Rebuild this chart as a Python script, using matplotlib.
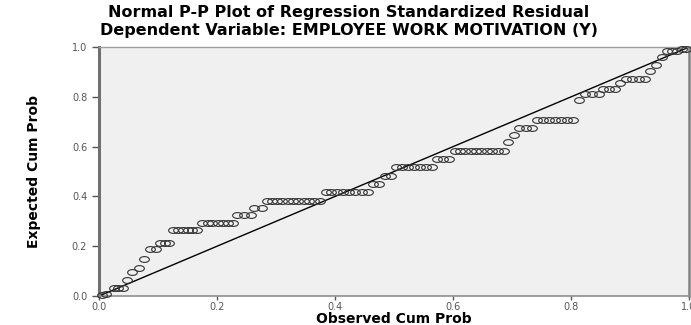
import numpy as np
import matplotlib
matplotlib.use("Agg")
import matplotlib.pyplot as plt
from matplotlib.path import Path

# Observed cum prob (x) and expected cum prob (y)
obs = [0.005, 0.012,
       0.025, 0.033, 0.040,
       0.047, 0.056, 0.067, 0.076,
       0.086, 0.097,
       0.104, 0.112, 0.119,
       0.126, 0.134, 0.142, 0.150, 0.158, 0.166,
       0.175, 0.184, 0.192, 0.201, 0.210, 0.218, 0.227,
       0.234, 0.246, 0.258,
       0.263, 0.276,
       0.284, 0.293, 0.302, 0.311, 0.320, 0.329, 0.338, 0.347, 0.356, 0.365, 0.375,
       0.384, 0.394, 0.404, 0.414, 0.424, 0.434, 0.445, 0.456,
       0.464, 0.474,
       0.484, 0.495,
       0.504, 0.514, 0.524, 0.534, 0.544, 0.554, 0.564,
       0.573, 0.583, 0.593,
       0.603, 0.612, 0.621, 0.630, 0.639, 0.648, 0.657, 0.667, 0.676, 0.686,
       0.694, 0.704,
       0.712, 0.723, 0.734,
       0.743, 0.753, 0.763, 0.773, 0.783, 0.793, 0.803,
       0.814,
       0.823, 0.835, 0.847,
       0.854, 0.864, 0.874,
       0.884,
       0.894, 0.904, 0.915, 0.926,
       0.934, 0.945, 0.954,
       0.963, 0.972, 0.980,
       0.988, 0.995]
exp = [0.003, 0.008,
       0.033, 0.033, 0.033,
       0.063, 0.098, 0.114, 0.147,
       0.190, 0.190,
       0.214, 0.214, 0.214,
       0.265, 0.265, 0.265, 0.265, 0.265, 0.265,
       0.294, 0.294, 0.294, 0.294, 0.294, 0.294, 0.294,
       0.324, 0.324, 0.324,
       0.352, 0.352,
       0.381, 0.381, 0.381, 0.381, 0.381, 0.381, 0.381, 0.381, 0.381, 0.381, 0.381,
       0.416, 0.416, 0.416, 0.416, 0.416, 0.416, 0.416, 0.416,
       0.451, 0.451,
       0.483, 0.483,
       0.517, 0.517, 0.517, 0.517, 0.517, 0.517, 0.517,
       0.550, 0.550, 0.550,
       0.582, 0.582, 0.582, 0.582, 0.582, 0.582, 0.582, 0.582, 0.582, 0.582,
       0.617, 0.648,
       0.677, 0.677, 0.677,
       0.707, 0.707, 0.707, 0.707, 0.707, 0.707, 0.707,
       0.787,
       0.811, 0.811, 0.811,
       0.831, 0.831, 0.831,
       0.854,
       0.871, 0.871, 0.871, 0.871,
       0.904, 0.930, 0.959,
       0.984, 0.984, 0.984,
       0.993, 0.993]
ticks = [0.0, 0.2, 0.4, 0.6, 0.8, 1.0]
tick_labels = ["0.0", "0.2", "0.4", "0.6", "0.8", "1.0"]

# flattened circle marker (the source image is stretched sideways)
circ = Path.unit_circle()
ellipse = Path(circ.vertices * np.array([1.0, 0.6]), circ.codes)

fig = plt.figure(figsize=(6.91, 3.25), dpi=100)
ax = fig.add_axes([0.1433, 0.0892, 0.8537, 0.7658])
ax.set_facecolor("#f0f0f0")

ax.plot([0, 1], [0, 1], color="black", lw=1.0, zorder=2)
ax.plot(obs, exp, linestyle="none", marker=ellipse, markersize=7,
        markerfacecolor="none", markeredgecolor="#333333", markeredgewidth=0.8,
        clip_on=False, zorder=3)

ax.set_xlim(0, 1)
ax.set_ylim(0, 1)
ax.set_xticks(ticks)
ax.set_xticklabels(tick_labels)
ax.set_yticks(ticks)
ax.set_yticklabels(tick_labels)
ax.tick_params(axis="both", labelsize=7, labelcolor="#555555", color="#555555",
               length=5, width=1, direction="out")
ax.tick_params(axis="x", length=3, pad=1)

ax.spines["left"].set_color("#707070")
ax.spines["left"].set_linewidth(2.2)
ax.spines["bottom"].set_color("#909090")
ax.spines["bottom"].set_linewidth(1.2)
ax.spines["top"].set_color("#a0a0a0")
ax.spines["top"].set_linewidth(1.0)
ax.spines["right"].set_color("#808080")
ax.spines["right"].set_linewidth(1.8)

ax.set_xlabel("Observed Cum Prob", fontsize=10, fontweight="bold", labelpad=0)
ax.set_ylabel("Expected Cum Prob", fontsize=10, fontweight="bold", labelpad=22)

fig.text(0.505, 0.96, "Normal P-P Plot of Regression Standardized Residual",
         ha="center", va="center", fontsize=11.5, fontweight="bold")
fig.text(0.505, 0.905, "Dependent Variable: EMPLOYEE WORK MOTIVATION (Y)",
         ha="center", va="center", fontsize=11.5, fontweight="bold")

fig.savefig("out.png", dpi=100)
